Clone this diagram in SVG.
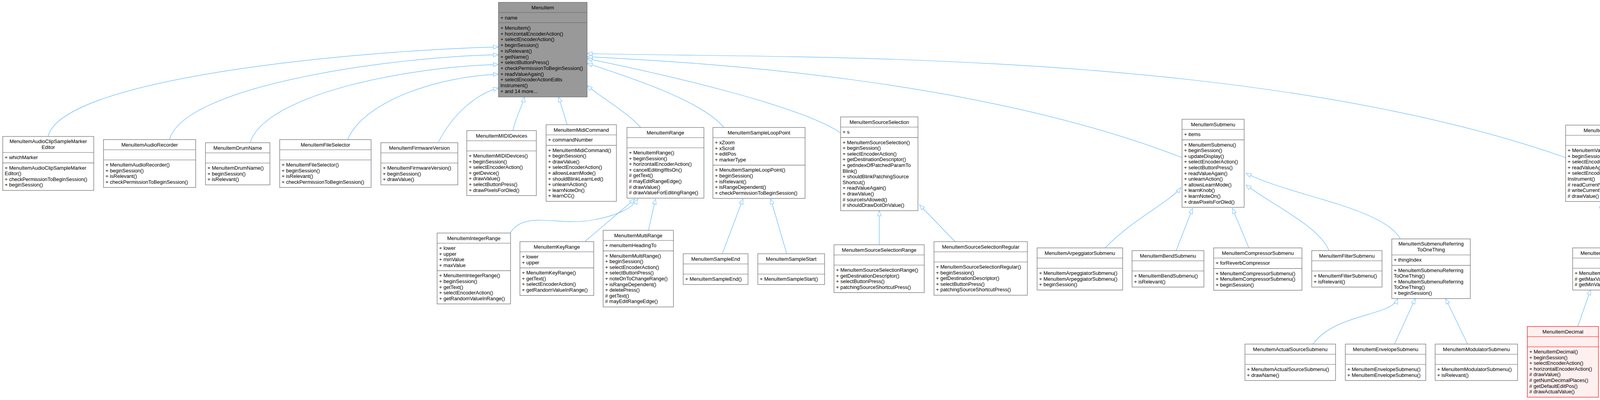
<svg xmlns="http://www.w3.org/2000/svg" width="7727" height="1023" viewBox="0 0 7727 1023">
<style>
.b{fill:#fff;stroke:#666;stroke-width:1.2}
.r{fill:#FFF0F0;stroke:#F00;stroke-width:1.2}
.g{fill:#999;stroke:#666;stroke-width:1.2}
text{font-family:"Liberation Sans",Arial,sans-serif;font-size:13px;fill:#000}
.c{text-anchor:middle}
.e path{fill:none;stroke:#63B8FF;stroke-width:1.2;marker-end:url(#a)}
</style>
<defs><marker id="a" markerWidth="15" markerHeight="12" refX="14" refY="6" orient="auto" markerUnits="userSpaceOnUse"><path d="M1,1 L14,6 L1,11 Z" fill="#fff" stroke="#63B8FF"/></marker></defs>
<rect width="7727" height="1023" fill="#fff"/>
<g class="e" id="edges">
<path d="M123,349 C160,200 900,130 1276,120"/>
<path d="M434,357 C470,220 1000,145 1276,140"/>
<path d="M640,365 C680,240 1050,170 1276,165"/>
<path d="M890,357 C930,260 1120,195 1276,190"/>
<path d="M1122,364 C1160,290 1220,240 1276,225"/>
<path d="M1313,334 C1320,300 1338,270 1342,248"/>
<path d="M1452,319 L1430,248"/>
<path d="M1640,326 C1610,290 1540,250 1503,219"/>
<path d="M1853,326 C1800,260 1620,200 1503,162"/>
<path d="M2152,340 C2050,270 1700,190 1503,150"/>
<path d="M3026,403 C2500,200 1800,160 1503,145"/>
<path d="M4008,403 C3200,120 2000,150 1503,137"/>
<path d="M1306,596 C1340,540 1420,575 1500,565 S1620,530 1633,509"/>
<path d="M1497,618 L1625,509"/>
<path d="M1660,589 L1678,509"/>
<path d="M1849,649 L1902,509"/>
<path d="M2014,649 L1973,509"/>
<path d="M2251,626 L2251,539"/>
<path d="M2445,618 L2354,524"/>
<path d="M2829,634 C2900,560 2990,520 3023,480"/>
<path d="M3011,641 L3053,533"/>
<path d="M3197,634 L3155,533"/>
<path d="M3402,641 C3380,580 3250,520 3190,473"/>
<path d="M3585,611 C3540,530 3300,500 3190,443"/>
<path d="M3361,880 C3420,800 3560,810 3578,764"/>
<path d="M3570,880 L3623,764"/>
<path d="M3757,880 L3701,764"/>
<path d="M4099,634 L4099,519"/>
<path d="M4039,835 L4072,741"/>
<path d="M4173,872 L4122,741"/>
<path d="M5809,674 L4192,432"/>
<path d="M4432,857 C4550,720 5200,695 5809,689"/>
<path d="M4633,872 C4720,760 5300,700 5809,694"/>
<path d="M4838,872 C4900,780 5400,710 5809,699"/>
<path d="M5037,850 C5080,780 5500,715 5809,704"/>
<path d="M5246,857 C5300,790 5600,720 5809,708"/>
<path d="M5450,857 C5500,780 5700,730 5809,711"/>
<path d="M5643,865 C5680,800 5780,770 5809,748"/>
<path d="M5809,872 L5850,763"/>
<path d="M5959,857 L5925,763"/>
<path d="M6127,872 C6080,800 6010,780 5969,743"/>
<path d="M6320,872 C6250,780 6080,740 5969,711"/>
<path d="M6509,857 C6430,760 6200,715 5969,704"/>
<path d="M6707,857 C6600,760 6300,710 5969,700"/>
<path d="M6936,872 C6850,760 6400,705 5969,697"/>
<path d="M7094,850 C7000,740 6500,700 5969,694"/>
<path d="M7283,857 C7180,740 6600,698 5969,692"/>
<path d="M7533,850 C7420,730 6800,695 5969,690"/>
</g>

<g id="MenuItem"><rect class="g" x="1276" y="6" width="227" height="242"/><path class="g" d="M1276,32H1503M1276,58H1503"/>
<text class="c" x="1389.5" y="24">MenuItem</text><text x="1281" y="50">+ name</text>
<text x="1281" y="76"><tspan x="1281">+ MenuItem()</tspan><tspan x="1281" dy="14.7">+ horizontalEncoderAction()</tspan><tspan x="1281" dy="14.7">+ selectEncoderAction()</tspan><tspan x="1281" dy="14.7">+ beginSession()</tspan><tspan x="1281" dy="14.7">+ isRelevant()</tspan><tspan x="1281" dy="14.7">+ getName()</tspan><tspan x="1281" dy="14.7">+ selectButtonPress()</tspan><tspan x="1281" dy="14.7">+ checkPermissionToBeginSession()</tspan><tspan x="1281" dy="14.7">+ readValueAgain()</tspan><tspan x="1281" dy="14.7">+ selectEncoderActionEdits</tspan><tspan x="1281" dy="14.7">Instrument()</tspan><tspan x="1281" dy="14.7">+ and 14 more...</tspan></text></g>

<g id="AudioClipSampleMarkerEditor"><rect class="b" x="7" y="349" width="233" height="138"/><path class="b" d="M7,390H240M7,416.6H240"/>
<text class="c" x="123.5" y="366"><tspan x="123.5">MenuItemAudioClipSampleMarker</tspan><tspan x="123.5" dy="15">Editor</tspan></text><text x="12" y="407">+ whichMarker</text>
<text x="12" y="433.6"><tspan x="12">+ MenuItemAudioClipSampleMarker</tspan><tspan x="12" dy="14.6">Editor()</tspan><tspan x="12" dy="14.6">+ checkPermissionToBeginSession()</tspan><tspan x="12" dy="14.6">+ beginSession()</tspan></text></g>

<g id="AudioRecorder"><rect class="b" x="265" y="357" width="236" height="122.4"/><path class="b" d="M265,383H501M265,409H501"/>
<text class="c" x="383" y="374.5">MenuItemAudioRecorder</text>
<text x="270" y="426"><tspan x="270">+ MenuItemAudioRecorder()</tspan><tspan x="270" dy="14.6">+ beginSession()</tspan><tspan x="270" dy="14.6">+ isRelevant()</tspan><tspan x="270" dy="14.6">+ checkPermissionToBeginSession()</tspan></text></g>

<g id="DrumName"><rect class="b" x="526" y="365" width="165" height="107.8"/><path class="b" d="M526,391H691M526,417H691"/>
<text class="c" x="608.5" y="382.5">MenuItemDrumName</text>
<text x="531" y="434"><tspan x="531">+ MenuItemDrumName()</tspan><tspan x="531" dy="14.6">+ beginSession()</tspan><tspan x="531" dy="14.6">+ isRelevant()</tspan></text></g>

<g id="FileSelector"><rect class="b" x="716" y="357" width="234" height="122.4"/><path class="b" d="M716,383H950M716,409H950"/>
<text class="c" x="833" y="374.5">MenuItemFileSelector</text>
<text x="721" y="426"><tspan x="721">+ MenuItemFileSelector()</tspan><tspan x="721" dy="14.6">+ beginSession()</tspan><tspan x="721" dy="14.6">+ isRelevant()</tspan><tspan x="721" dy="14.6">+ checkPermissionToBeginSession()</tspan></text></g>

<g id="FirmwareVersion"><rect class="b" x="975" y="365" width="197" height="107.8"/><path class="b" d="M975,391H1172M975,417H1172"/>
<text class="c" x="1073.5" y="382.5">MenuItemFirmwareVersion</text>
<text x="980" y="434"><tspan x="980">+ MenuItemFirmwareVersion()</tspan><tspan x="980" dy="14.6">+ beginSession()</tspan><tspan x="980" dy="14.6">+ drawValue()</tspan></text></g>

<g id="MIDIDevices"><rect class="b" x="1195" y="334" width="178" height="166.2"/><path class="b" d="M1195,360H1373M1195,386H1373"/>
<text class="c" x="1284" y="351.5">MenuItemMIDIDevices</text>
<text x="1200" y="403"><tspan x="1200">+ MenuItemMIDIDevices()</tspan><tspan x="1200" dy="14.6">+ beginSession()</tspan><tspan x="1200" dy="14.6">+ selectEncoderAction()</tspan><tspan x="1200" dy="14.6">+ getDevice()</tspan><tspan x="1200" dy="14.6">+ drawValue()</tspan><tspan x="1200" dy="14.6">+ selectButtonPress()</tspan><tspan x="1200" dy="14.6">+ drawPixelsForOled()</tspan></text></g>

<g id="MidiCommand"><rect class="b" x="1398" y="319" width="180" height="196"/><path class="b" d="M1398,345H1578M1398,371.6H1578"/>
<text class="c" x="1488" y="336.5">MenuItemMidiCommand</text><text x="1403" y="362">+ commandNumber</text>
<text x="1403" y="388.6"><tspan x="1403">+ MenuItemMidiCommand()</tspan><tspan x="1403" dy="14.6">+ beginSession()</tspan><tspan x="1403" dy="14.6">+ drawValue()</tspan><tspan x="1403" dy="14.6">+ selectEncoderAction()</tspan><tspan x="1403" dy="14.6">+ allowsLearnMode()</tspan><tspan x="1403" dy="14.6">+ shouldBlinkLearnLed()</tspan><tspan x="1403" dy="14.6">+ unlearnAction()</tspan><tspan x="1403" dy="14.6">+ learnNoteOn()</tspan><tspan x="1403" dy="14.6">+ learnCC()</tspan></text></g>

<g id="Range"><rect class="b" x="1605" y="326" width="197" height="180.8"/><path class="b" d="M1605,352H1802M1605,378H1802"/>
<text class="c" x="1703.5" y="343.5">MenuItemRange</text>
<text x="1610" y="395"><tspan x="1610">+ MenuItemRange()</tspan><tspan x="1610" dy="14.6">+ beginSession()</tspan><tspan x="1610" dy="14.6">+ horizontalEncoderAction()</tspan><tspan x="1610" dy="14.6">+ cancelEditingIfItsOn()</tspan><tspan x="1610" dy="14.6"># getText()</tspan><tspan x="1610" dy="14.6"># mayEditRangeEdge()</tspan><tspan x="1610" dy="14.6"># drawValue()</tspan><tspan x="1610" dy="14.6"># drawValueForEditingRange()</tspan></text></g>

<g id="SampleLoopPoint"><rect class="b" x="1825" y="326" width="236" height="181.4"/><path class="b" d="M1825,352H2061M1825,422.4H2061"/>
<text class="c" x="1943" y="343.5">MenuItemSampleLoopPoint</text>
<text x="1830" y="369"><tspan x="1830">+ xZoom</tspan><tspan x="1830" dy="14.6">+ xScroll</tspan><tspan x="1830" dy="14.6">+ editPos</tspan><tspan x="1830" dy="14.6">+ markerType</tspan></text>
<text x="1830" y="439.4"><tspan x="1830">+ MenuItemSampleLoopPoint()</tspan><tspan x="1830" dy="14.6">+ beginSession()</tspan><tspan x="1830" dy="14.6">+ isRelevant()</tspan><tspan x="1830" dy="14.6">+ isRangeDependent()</tspan><tspan x="1830" dy="14.6">+ checkPermissionToBeginSession()</tspan></text></g>

<g id="SourceSelection"><rect class="b" x="2152" y="299" width="198" height="239.8"/><path class="b" d="M2152,325H2350M2152,351.6H2350"/>
<text class="c" x="2251" y="316.5">MenuItemSourceSelection</text><text x="2157" y="342">+ s</text>
<text x="2157" y="368.6"><tspan x="2157">+ MenuItemSourceSelection()</tspan><tspan x="2157" dy="14.6">+ beginSession()</tspan><tspan x="2157" dy="14.6">+ selectEncoderAction()</tspan><tspan x="2157" dy="14.6">+ getDestinationDescriptor()</tspan><tspan x="2157" dy="14.6">+ getIndexOfPatchedParamTo</tspan><tspan x="2157" dy="14.6">Blink()</tspan><tspan x="2157" dy="14.6">+ shouldBlinkPatchingSource</tspan><tspan x="2157" dy="14.6">Shortcut()</tspan><tspan x="2157" dy="14.6">+ readValueAgain()</tspan><tspan x="2157" dy="14.6">+ drawValue()</tspan><tspan x="2157" dy="14.6"># sourceIsAllowed()</tspan><tspan x="2157" dy="14.6"># shouldDrawDotOnValue()</tspan></text></g>

<g id="Submenu"><rect class="b" x="3026" y="305" width="159" height="225.2"/><path class="b" d="M3026,331H3185M3026,357.6H3185"/>
<text class="c" x="3105.5" y="322.5">MenuItemSubmenu</text><text x="3031" y="348">+ items</text>
<text x="3031" y="374.6"><tspan x="3031">+ MenuItemSubmenu()</tspan><tspan x="3031" dy="14.6">+ beginSession()</tspan><tspan x="3031" dy="14.6">+ updateDisplay()</tspan><tspan x="3031" dy="14.6">+ selectEncoderAction()</tspan><tspan x="3031" dy="14.6">+ selectButtonPress()</tspan><tspan x="3031" dy="14.6">+ readValueAgain()</tspan><tspan x="3031" dy="14.6">+ unlearnAction()</tspan><tspan x="3031" dy="14.6">+ allowsLearnMode()</tspan><tspan x="3031" dy="14.6">+ learnKnob()</tspan><tspan x="3031" dy="14.6">+ learnNoteOn()</tspan><tspan x="3031" dy="14.6">+ drawPixelsForOled()</tspan></text></g>

<g id="Value"><rect class="b" x="4008" y="320" width="182" height="195.4"/><path class="b" d="M4008,346H4190M4008,372H4190"/>
<text class="c" x="4099" y="337.5">MenuItemValue</text>
<text x="4013" y="389"><tspan x="4013">+ MenuItemValue()</tspan><tspan x="4013" dy="14.6">+ beginSession()</tspan><tspan x="4013" dy="14.6">+ selectEncoderAction()</tspan><tspan x="4013" dy="14.6">+ readValueAgain()</tspan><tspan x="4013" dy="14.6">+ selectEncoderActionEdits</tspan><tspan x="4013" dy="14.6">Instrument()</tspan><tspan x="4013" dy="14.6"># readCurrentValue()</tspan><tspan x="4013" dy="14.6"># writeCurrentValue()</tspan><tspan x="4013" dy="14.6"># drawValue()</tspan></text></g>

<g id="IntegerRange"><rect class="b" x="1119" y="596" width="188" height="181.4"/><path class="b" d="M1119,622H1307M1119,692.4H1307"/>
<text class="c" x="1213" y="613.5">MenuItemIntegerRange</text>
<text x="1124" y="639"><tspan x="1124">+ lower</tspan><tspan x="1124" dy="14.6">+ upper</tspan><tspan x="1124" dy="14.6">+ minValue</tspan><tspan x="1124" dy="14.6">+ maxValue</tspan></text>
<text x="1124" y="709.4"><tspan x="1124">+ MenuItemIntegerRange()</tspan><tspan x="1124" dy="14.6">+ beginSession()</tspan><tspan x="1124" dy="14.6">+ getText()</tspan><tspan x="1124" dy="14.6">+ selectEncoderAction()</tspan><tspan x="1124" dy="14.6">+ getRandomValueInRange()</tspan></text></g>

<g id="KeyRange"><rect class="b" x="1331" y="618" width="189" height="137.6"/><path class="b" d="M1331,644H1520M1331,685.2H1520"/>
<text class="c" x="1425.5" y="635.5">MenuItemKeyRange</text>
<text x="1336" y="661"><tspan x="1336">+ lower</tspan><tspan x="1336" dy="14.6">+ upper</tspan></text>
<text x="1336" y="702.2"><tspan x="1336">+ MenuItemKeyRange()</tspan><tspan x="1336" dy="14.6">+ getText()</tspan><tspan x="1336" dy="14.6">+ selectEncoderAction()</tspan><tspan x="1336" dy="14.6">+ getRandomValueInRange()</tspan></text></g>

<g id="MultiRange"><rect class="b" x="1544" y="589" width="180" height="196"/><path class="b" d="M1544,615H1724M1544,641.6H1724"/>
<text class="c" x="1634" y="606.5">MenuItemMultiRange</text><text x="1549" y="632">+ menuItemHeadingTo</text>
<text x="1549" y="658.6"><tspan x="1549">+ MenuItemMultiRange()</tspan><tspan x="1549" dy="14.6">+ beginSession()</tspan><tspan x="1549" dy="14.6">+ selectEncoderAction()</tspan><tspan x="1549" dy="14.6">+ selectButtonPress()</tspan><tspan x="1549" dy="14.6">+ noteOnToChangeRange()</tspan><tspan x="1549" dy="14.6">+ isRangeDependent()</tspan><tspan x="1549" dy="14.6">+ deletePress()</tspan><tspan x="1549" dy="14.6"># getText()</tspan><tspan x="1549" dy="14.6"># mayEditRangeEdge()</tspan></text></g>

<g id="SampleEnd"><rect class="b" x="1749" y="649" width="166" height="78.6"/><path class="b" d="M1749,675H1915M1749,701H1915"/>
<text class="c" x="1832" y="666.5">MenuItemSampleEnd</text><text x="1754" y="718">+ MenuItemSampleEnd()</text></g>

<g id="SampleStart"><rect class="b" x="1940" y="649" width="171" height="78.6"/><path class="b" d="M1940,675H2111M1940,701H2111"/>
<text class="c" x="2025.5" y="666.5">MenuItemSampleStart</text><text x="1945" y="718">+ MenuItemSampleStart()</text></g>

<g id="SourceSelectionRange"><rect class="b" x="2135" y="626" width="231" height="122.4"/><path class="b" d="M2135,652H2366M2135,678H2366"/>
<text class="c" x="2250.5" y="643.5">MenuItemSourceSelectionRange</text>
<text x="2140" y="695"><tspan x="2140">+ MenuItemSourceSelectionRange()</tspan><tspan x="2140" dy="14.6">+ getDestinationDescriptor()</tspan><tspan x="2140" dy="14.6">+ selectButtonPress()</tspan><tspan x="2140" dy="14.6">+ patchingSourceShortcutPress()</tspan></text></g>

<g id="SourceSelectionRegular"><rect class="b" x="2391" y="618" width="239" height="137"/><path class="b" d="M2391,644H2630M2391,670H2630"/>
<text class="c" x="2510.5" y="635.5">MenuItemSourceSelectionRegular</text>
<text x="2396" y="687"><tspan x="2396">+ MenuItemSourceSelectionRegular()</tspan><tspan x="2396" dy="14.6">+ beginSession()</tspan><tspan x="2396" dy="14.6">+ getDestinationDescriptor()</tspan><tspan x="2396" dy="14.6">+ selectButtonPress()</tspan><tspan x="2396" dy="14.6">+ patchingSourceShortcutPress()</tspan></text></g>

<g id="ArpeggiatorSubmenu"><rect class="b" x="2655" y="634" width="219" height="107.8"/><path class="b" d="M2655,660H2874M2655,686H2874"/>
<text class="c" x="2764.5" y="651.5">MenuItemArpeggiatorSubmenu</text>
<text x="2660" y="703"><tspan x="2660">+ MenuItemArpeggiatorSubmenu()</tspan><tspan x="2660" dy="14.6">+ MenuItemArpeggiatorSubmenu()</tspan><tspan x="2660" dy="14.6">+ beginSession()</tspan></text></g>

<g id="BendSubmenu"><rect class="b" x="2898" y="641" width="184" height="93.2"/><path class="b" d="M2898,667H3082M2898,693H3082"/>
<text class="c" x="2990" y="658.5">MenuItemBendSubmenu</text>
<text x="2903" y="710"><tspan x="2903">+ MenuItemBendSubmenu()</tspan><tspan x="2903" dy="14.6">+ isRelevant()</tspan></text></g>

<g id="CompressorSubmenu"><rect class="b" x="3107" y="634" width="226" height="108.4"/><path class="b" d="M3107,660H3333M3107,686.6H3333"/>
<text class="c" x="3220" y="651.5">MenuItemCompressorSubmenu</text><text x="3112" y="677">+ forReverbCompressor</text>
<text x="3112" y="703.6"><tspan x="3112">+ MenuItemCompressorSubmenu()</tspan><tspan x="3112" dy="14.6">+ MenuItemCompressorSubmenu()</tspan><tspan x="3112" dy="14.6">+ beginSession()</tspan></text></g>

<g id="FilterSubmenu"><rect class="b" x="3358" y="641" width="180" height="93.2"/><path class="b" d="M3358,667H3538M3358,693H3538"/>
<text class="c" x="3448" y="658.5">MenuItemFilterSubmenu</text>
<text x="3363" y="710"><tspan x="3363">+ MenuItemFilterSubmenu()</tspan><tspan x="3363" dy="14.6">+ isRelevant()</tspan></text></g>

<g id="SubmenuReferringToOneThing"><rect class="b" x="3563" y="611" width="201" height="152.6"/><path class="b" d="M3563,652H3764M3563,678.6H3764"/>
<text class="c" x="3663.5" y="628"><tspan x="3663.5">MenuItemSubmenuReferring</tspan><tspan x="3663.5" dy="15">ToOneThing</tspan></text><text x="3568" y="669">+ thingIndex</text>
<text x="3568" y="695.6"><tspan x="3568">+ MenuItemSubmenuReferring</tspan><tspan x="3568" dy="14.6">ToOneThing()</tspan><tspan x="3568" dy="14.6">+ MenuItemSubmenuReferring</tspan><tspan x="3568" dy="14.6">ToOneThing()</tspan><tspan x="3568" dy="14.6">+ beginSession()</tspan></text></g>

<g id="Number"><rect class="b" x="4026" y="634" width="144" height="107.8"/><path class="b" d="M4026,660H4170M4026,686H4170"/>
<text class="c" x="4098" y="651.5">MenuItemNumber</text>
<text x="4031" y="703"><tspan x="4031">+ MenuItemNumber()</tspan><tspan x="4031" dy="14.6"># getMaxValue()</tspan><tspan x="4031" dy="14.6"># getMinValue()</tspan></text></g>

<g id="Selection"><rect class="r" x="5809" y="610" width="160" height="152.2"/><path class="r" d="M5809,636H5969M5809,662.6H5969"/>
<text class="c" x="5889" y="627.5">MenuItemSelection</text><text x="5814" y="653">+ basicOptions</text>
<text x="5814" y="679.6"><tspan x="5814">+ MenuItemSelection()</tspan><tspan x="5814" dy="14.6">+ beginSession()</tspan><tspan x="5814" dy="14.6">+ selectEncoderAction()</tspan><tspan x="5814" dy="14.6"># getOptions()</tspan><tspan x="5814" dy="14.6"># getNumOptions()</tspan><tspan x="5814" dy="14.6"># drawValue()</tspan></text></g>

<g id="ActualSourceSubmenu"><rect class="b" x="3187" y="880" width="232" height="93.2"/><path class="b" d="M3187,906H3419M3187,932H3419"/>
<text class="c" x="3303" y="897.5">MenuItemActualSourceSubmenu</text>
<text x="3192" y="949"><tspan x="3192">+ MenuItemActualSourceSubmenu()</tspan><tspan x="3192" dy="14.6">+ drawName()</tspan></text></g>

<g id="EnvelopeSubmenu"><rect class="b" x="3444" y="880" width="206" height="93.2"/><path class="b" d="M3444,906H3650M3444,932H3650"/>
<text class="c" x="3547" y="897.5">MenuItemEnvelopeSubmenu</text>
<text x="3449" y="949"><tspan x="3449">+ MenuItemEnvelopeSubmenu()</tspan><tspan x="3449" dy="14.6">+ MenuItemEnvelopeSubmenu()</tspan></text></g>

<g id="ModulatorSubmenu"><rect class="b" x="3674" y="880" width="211" height="93.2"/><path class="b" d="M3674,906H3885M3674,932H3885"/>
<text class="c" x="3779.5" y="897.5">MenuItemModulatorSubmenu</text>
<text x="3679" y="949"><tspan x="3679">+ MenuItemModulatorSubmenu()</tspan><tspan x="3679" dy="14.6">+ isRelevant()</tspan></text></g>

<g id="Decimal"><rect class="r" x="3910" y="835" width="182" height="180.8"/><path class="r" d="M3910,861H4092M3910,887H4092"/>
<text class="c" x="4001" y="852.5">MenuItemDecimal</text>
<text x="3915" y="904"><tspan x="3915">+ MenuItemDecimal()</tspan><tspan x="3915" dy="14.6">+ beginSession()</tspan><tspan x="3915" dy="14.6">+ selectEncoderAction()</tspan><tspan x="3915" dy="14.6">+ horizontalEncoderAction()</tspan><tspan x="3915" dy="14.6"># drawValue()</tspan><tspan x="3915" dy="14.6"># getNumDecimalPlaces()</tspan><tspan x="3915" dy="14.6"># getDefaultEditPos()</tspan><tspan x="3915" dy="14.6"># drawActualValue()</tspan></text></g>

<g id="Integer"><rect class="r" x="4117" y="872" width="161" height="107.8"/><path class="r" d="M4117,898H4278M4117,924H4278"/>
<text class="c" x="4197.5" y="889.5">MenuItemInteger</text>
<text x="4122" y="941"><tspan x="4122">+ MenuItemInteger()</tspan><tspan x="4122" dy="14.6">+ selectEncoderAction()</tspan><tspan x="4122" dy="14.6">+ drawValue()</tspan></text></g>

<g id="ArpMode"><rect class="b" x="4303" y="857" width="149" height="137"/><path class="b" d="M4303,883H4452M4303,909H4452"/>
<text class="c" x="4377.5" y="874.5">MenuItemArpMode</text>
<text x="4308" y="926"><tspan x="4308">+ MenuItemArpMode()</tspan><tspan x="4308" dy="14.6">+ readCurrentValue()</tspan><tspan x="4308" dy="14.6">+ writeCurrentValue()</tspan><tspan x="4308" dy="14.6">+ getOptions()</tspan><tspan x="4308" dy="14.6">+ getNumOptions()</tspan></text></g>

<g id="AudioClipReverse"><rect class="b" x="4477" y="872" width="204" height="107.8"/><path class="b" d="M4477,898H4681M4477,924H4681"/>
<text class="c" x="4579" y="889.5">MenuItemAudioClipReverse</text>
<text x="4482" y="941"><tspan x="4482">+ MenuItemAudioClipReverse()</tspan><tspan x="4482" dy="14.6">+ readCurrentValue()</tspan><tspan x="4482" dy="14.6">+ writeCurrentValue()</tspan></text></g>

<g id="CVSelection"><rect class="b" x="4706" y="872" width="170" height="107.8"/><path class="b" d="M4706,898H4876M4706,924H4876"/>
<text class="c" x="4791" y="889.5">MenuItemCVSelection</text>
<text x="4711" y="941"><tspan x="4711">+ MenuItemCVSelection()</tspan><tspan x="4711" dy="14.6">+ beginSession()</tspan><tspan x="4711" dy="14.6">+ selectButtonPress()</tspan></text></g>

<g id="Colour"><rect class="b" x="4901" y="850" width="144" height="152.2"/><path class="b" d="M4901,876H5045M4901,902.6H5045"/>
<text class="c" x="4973" y="867.5">MenuItemColour</text><text x="4906" y="893">+ value</text>
<text x="4906" y="919.6"><tspan x="4906">+ MenuItemColour()</tspan><tspan x="4906" dy="14.6">+ readCurrentValue()</tspan><tspan x="4906" dy="14.6">+ writeCurrentValue()</tspan><tspan x="4906" dy="14.6">+ getOptions()</tspan><tspan x="4906" dy="14.6">+ getNumOptions()</tspan><tspan x="4906" dy="14.6">+ getRGB()</tspan></text></g>

<g id="DefaultMagnitude"><rect class="b" x="5070" y="857" width="202" height="137"/><path class="b" d="M5070,883H5272M5070,909H5272"/>
<text class="c" x="5171" y="874.5">MenuItemDefaultMagnitude</text>
<text x="5075" y="926"><tspan x="5075">+ MenuItemDefaultMagnitude()</tspan><tspan x="5075" dy="14.6">+ getNumOptions()</tspan><tspan x="5075" dy="14.6">+ readCurrentValue()</tspan><tspan x="5075" dy="14.6">+ writeCurrentValue()</tspan><tspan x="5075" dy="14.6">+ drawValue()</tspan></text></g>

<g id="DefaultScale"><rect class="b" x="5297" y="857" width="172" height="137"/><path class="b" d="M5297,883H5469M5297,909H5469"/>
<text class="c" x="5383" y="874.5">MenuItemDefaultScale</text>
<text x="5302" y="926"><tspan x="5302">+ MenuItemDefaultScale()</tspan><tspan x="5302" dy="14.6">+ readCurrentValue()</tspan><tspan x="5302" dy="14.6">+ writeCurrentValue()</tspan><tspan x="5302" dy="14.6">+ getNumOptions()</tspan><tspan x="5302" dy="14.6">+ getOptions()</tspan></text></g>

<g id="DelayAnalog"><rect class="b" x="5493" y="865" width="173" height="122.4"/><path class="b" d="M5493,891H5666M5493,917H5666"/>
<text class="c" x="5579.5" y="882.5">MenuItemDelayAnalog</text>
<text x="5498" y="934"><tspan x="5498">+ MenuItemDelayAnalog()</tspan><tspan x="5498" dy="14.6">+ readCurrentValue()</tspan><tspan x="5498" dy="14.6">+ writeCurrentValue()</tspan><tspan x="5498" dy="14.6">+ getOptions()</tspan></text></g>

<g id="DelayPingPong"><rect class="b" x="5692" y="872" width="188" height="107.8"/><path class="b" d="M5692,898H5880M5692,924H5880"/>
<text class="c" x="5786" y="889.5">MenuItemDelayPingPong</text>
<text x="5697" y="941"><tspan x="5697">+ MenuItemDelayPingPong()</tspan><tspan x="5697" dy="14.6">+ readCurrentValue()</tspan><tspan x="5697" dy="14.6">+ writeCurrentValue()</tspan></text></g>

<g id="FlashStatus"><rect class="b" x="5904" y="857" width="170" height="137"/><path class="b" d="M5904,883H6074M5904,909H6074"/>
<text class="c" x="5989" y="874.5">MenuItemFlashStatus</text>
<text x="5909" y="926"><tspan x="5909">+ MenuItemFlashStatus()</tspan><tspan x="5909" dy="14.6">+ readCurrentValue()</tspan><tspan x="5909" dy="14.6">+ writeCurrentValue()</tspan><tspan x="5909" dy="14.6">+ getOptions()</tspan><tspan x="5909" dy="14.6">+ getNumOptions()</tspan></text></g>

<g id="GateMode"><rect class="b" x="6098" y="872" width="158" height="107.8"/><path class="b" d="M6098,898H6256M6098,924H6256"/>
<text class="c" x="6177" y="889.5">MenuItemGateMode</text>
<text x="6103" y="941"><tspan x="6103">+ MenuItemGateMode()</tspan><tspan x="6103" dy="14.6">+ readCurrentValue()</tspan><tspan x="6103" dy="14.6">+ writeCurrentValue()</tspan></text></g>

<g id="GateSelection"><rect class="b" x="6282" y="872" width="180" height="107.8"/><path class="b" d="M6282,898H6462M6282,924H6462"/>
<text class="c" x="6372" y="889.5">MenuItemGateSelection</text>
<text x="6287" y="941"><tspan x="6287">+ MenuItemGateSelection()</tspan><tspan x="6287" dy="14.6">+ beginSession()</tspan><tspan x="6287" dy="14.6">+ selectButtonPress()</tspan></text></g>

<g id="Interpolation"><rect class="b" x="6486" y="857" width="171" height="137"/><path class="b" d="M6486,883H6657M6486,909H6657"/>
<text class="c" x="6571.5" y="874.5">MenuItemInterpolation</text>
<text x="6491" y="926"><tspan x="6491">+ MenuItemInterpolation()</tspan><tspan x="6491" dy="14.6">+ readCurrentValue()</tspan><tspan x="6491" dy="14.6">+ writeCurrentValue()</tspan><tspan x="6491" dy="14.6">+ getOptions()</tspan><tspan x="6491" dy="14.6">+ isRelevant()</tspan></text></g>

<g id="KeyboardLayout"><rect class="b" x="6681" y="857" width="192" height="137"/><path class="b" d="M6681,883H6873M6681,909H6873"/>
<text class="c" x="6777" y="874.5">MenuItemKeyboardLayout</text>
<text x="6686" y="926"><tspan x="6686">+ MenuItemKeyboardLayout()</tspan><tspan x="6686" dy="14.6">+ readCurrentValue()</tspan><tspan x="6686" dy="14.6">+ writeCurrentValue()</tspan><tspan x="6686" dy="14.6">+ getOptions()</tspan><tspan x="6686" dy="14.6">+ getNumOptions()</tspan></text></g>

<g id="LFOShape"><rect class="r" x="6899" y="872" width="161" height="107.8"/><path class="r" d="M6899,898H7060M6899,924H7060"/>
<text class="c" x="6979.5" y="889.5">MenuItemLFOShape</text>
<text x="6904" y="941"><tspan x="6904">+ MenuItemLFOShape()</tspan><tspan x="6904" dy="14.6">+ getOptions()</tspan><tspan x="6904" dy="14.6">+ getNumOptions()</tspan></text></g>

<g id="LPFMode"><rect class="b" x="7084" y="850" width="155" height="151.6"/><path class="b" d="M7084,876H7239M7084,902H7239"/>
<text class="c" x="7161.5" y="867.5">MenuItemLPFMode</text>
<text x="7089" y="919"><tspan x="7089">+ MenuItemLPFMode()</tspan><tspan x="7089" dy="14.6">+ readCurrentValue()</tspan><tspan x="7089" dy="14.6">+ writeCurrentValue()</tspan><tspan x="7089" dy="14.6">+ getOptions()</tspan><tspan x="7089" dy="14.6">+ getNumOptions()</tspan><tspan x="7089" dy="14.6">+ isRelevant()</tspan></text></g>

<g id="MPEDirectionSelector"><rect class="b" x="7265" y="850" width="227" height="152.2"/><path class="b" d="M7265,876H7492M7265,902.6H7492"/>
<text class="c" x="7378.5" y="867.5">MenuItemMPEDirectionSelector</text><text x="7270" y="893">+ whichDirection</text>
<text x="7270" y="919.6"><tspan x="7270">+ MenuItemMPEDirectionSelector()</tspan><tspan x="7270" dy="14.6">+ beginSession()</tspan><tspan x="7270" dy="14.6">+ getOptions()</tspan><tspan x="7270" dy="14.6">+ readCurrentValue()</tspan><tspan x="7270" dy="14.6">+ writeCurrentValue()</tspan><tspan x="7270" dy="14.6">+ selectButtonPress()</tspan></text></g>

<g id="MPEZoneSelector"><rect class="b" x="7516" y="850" width="207" height="152.2"/><path class="b" d="M7516,876H7723M7516,902.6H7723"/>
<text class="c" x="7619.5" y="867.5">MenuItemMPEZoneSelector</text><text x="7521" y="893">+ whichZone</text>
<text x="7521" y="919.6"><tspan x="7521">+ MenuItemMPEZoneSelector()</tspan><tspan x="7521" dy="14.6">+ beginSession()</tspan><tspan x="7521" dy="14.6">+ getOptions()</tspan><tspan x="7521" dy="14.6">+ readCurrentValue()</tspan><tspan x="7521" dy="14.6">+ writeCurrentValue()</tspan><tspan x="7521" dy="14.6">+ selectButtonPress()</tspan></text></g>
</svg>
